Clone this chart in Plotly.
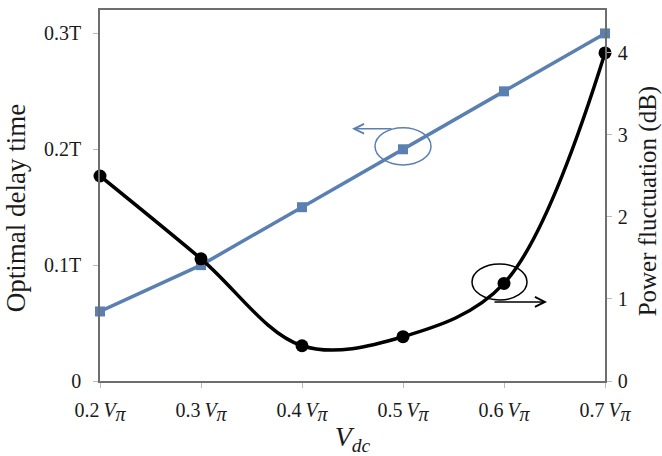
import plotly.graph_objects as go

# Data
vdc = [0.2, 0.3, 0.4, 0.5, 0.6, 0.7]
x_labels = ["0.2", "0.3", "0.4", "0.5", "0.6", "0.7"]
delay_time = [0.06, 0.10, 0.15, 0.20, 0.25, 0.30]      # in units of T
power_fluct = [2.5, 1.49, 0.43, 0.54, 1.19, 4.0]        # dB

left_ticks = [0, 0.1, 0.2, 0.3]
left_ticktext = ["0", "0.1T", "0.2T", "0.3T"]
right_ticks = [0, 1, 2, 3, 4]

BLUE = "#5a80b2"
BLACK = "#000000"
FONT = "Liberation Serif"

# layout geometry (pixels)
W, H = 662, 456
ML, MR, MT, MB = 100, 57, 8, 68
PW, PH = W - ML - MR, H - MT - MB
XR = [0.2, 0.7]
Y1R = [0, 0.3202]
Y2R = [0, 4.524]
px_x = (XR[1] - XR[0]) / PW
px_y1 = (Y1R[1] - Y1R[0]) / PH
px_y2 = (Y2R[1] - Y2R[0]) / PH

fig = go.Figure()
fig.add_trace(go.Scatter(
    x=vdc, y=delay_time, mode="lines+markers",
    line=dict(color=BLUE, width=3.5),
    marker=dict(symbol="square", size=10, color=BLUE),
    cliponaxis=False, showlegend=False, yaxis="y"))
fig.add_trace(go.Scatter(
    x=vdc, y=power_fluct, mode="lines+markers",
    line=dict(color=BLACK, width=3.5, shape="spline", smoothing=1.0),
    marker=dict(symbol="circle", size=13, color=BLACK),
    cliponaxis=False, showlegend=False, yaxis="y2"))

# Ellipse + arrow around blue point (index 3)
bx, by = vdc[3], delay_time[3]
fig.add_shape(type="circle", xref="x", yref="y",
              x0=bx - 28 * px_x, x1=bx + 28 * px_x,
              y0=by - 18 * px_y1 + 2 * px_y1, y1=by + 20 * px_y1 + 2 * px_y1,
              line=dict(color=BLUE, width=1.5))
fig.add_annotation(xref="x", yref="y", x=bx - 51 * px_x, y=by + 21 * px_y1,
                   ax=41, ay=0, showarrow=True, arrowhead=5, arrowsize=1.3,
                   arrowwidth=1.5, arrowcolor=BLUE, text="")

# Ellipse + arrow around black point (index 4)
kx, ky = vdc[4], power_fluct[4]
fig.add_shape(type="circle", xref="x", yref="y2",
              x0=kx - 32 * px_x, x1=kx + 23 * px_x,
              y0=ky - 17 * px_y2, y1=ky + 20 * px_y2,
              line=dict(color=BLACK, width=1.5))
fig.add_annotation(xref="x", yref="y2", x=kx + 43 * px_x, y=ky - 19 * px_y2,
                   ax=-54, ay=0, showarrow=True, arrowhead=5, arrowsize=1.3,
                   arrowwidth=1.5, arrowcolor=BLACK, text="")

# Axis titles as annotations (for precise placement)
fig.add_annotation(xref="paper", yref="paper", x=-ML / PW + 16 / PW,
                   y=1 - (211 - MT) / PH, text="Optimal delay time",
                   textangle=-90, showarrow=False, font=dict(size=27),
                   xanchor="center", yanchor="middle")
fig.add_annotation(xref="paper", yref="paper", x=1 + (648 - ML - PW) / PW,
                   y=1 - (204 - MT) / PH, text="Power fluctuation (dB)",
                   textangle=-90, showarrow=False, font=dict(size=25),
                   xanchor="center", yanchor="middle")

axis_line = "#6e6e6e"
pi_span = "<span style='font-size:20px'>π</span>"
fig.update_layout(
    width=W, height=H,
    margin=dict(l=ML, r=MR, t=MT, b=MB),
    plot_bgcolor="white", paper_bgcolor="white",
    font=dict(family=FONT, size=20, color="#1a1a1a"),
    xaxis=dict(
        range=XR, tickvals=vdc,
        ticktext=[f"{s}\u2009<i>V</i><sub><i>{pi_span}</i></sub>" for s in x_labels],
        showgrid=False, zeroline=False,
        showline=True, linecolor=axis_line, linewidth=1.5, mirror=True,
        ticks="outside", ticklen=5, tickcolor="#bbbbbb", ticklabelstandoff=5,
        title=dict(text="<i>V</i><sub><i>dc</i></sub>", font=dict(size=28), standoff=3)),
    yaxis=dict(
        range=Y1R, tickvals=left_ticks, ticktext=left_ticktext,
        showgrid=False, zeroline=False,
        showline=True, linecolor=axis_line, linewidth=1.5,
        ticks="outside", ticklen=5, tickcolor="#bbbbbb", ticklabelstandoff=8),
    yaxis2=dict(
        range=Y2R, tickvals=right_ticks, overlaying="y", side="right",
        showgrid=False, zeroline=False,
        showline=True, linecolor=axis_line, linewidth=1.5,
        ticks="outside", ticklen=5, tickcolor="#bbbbbb", ticklabelstandoff=2),
)

fig.write_html("out.html")
